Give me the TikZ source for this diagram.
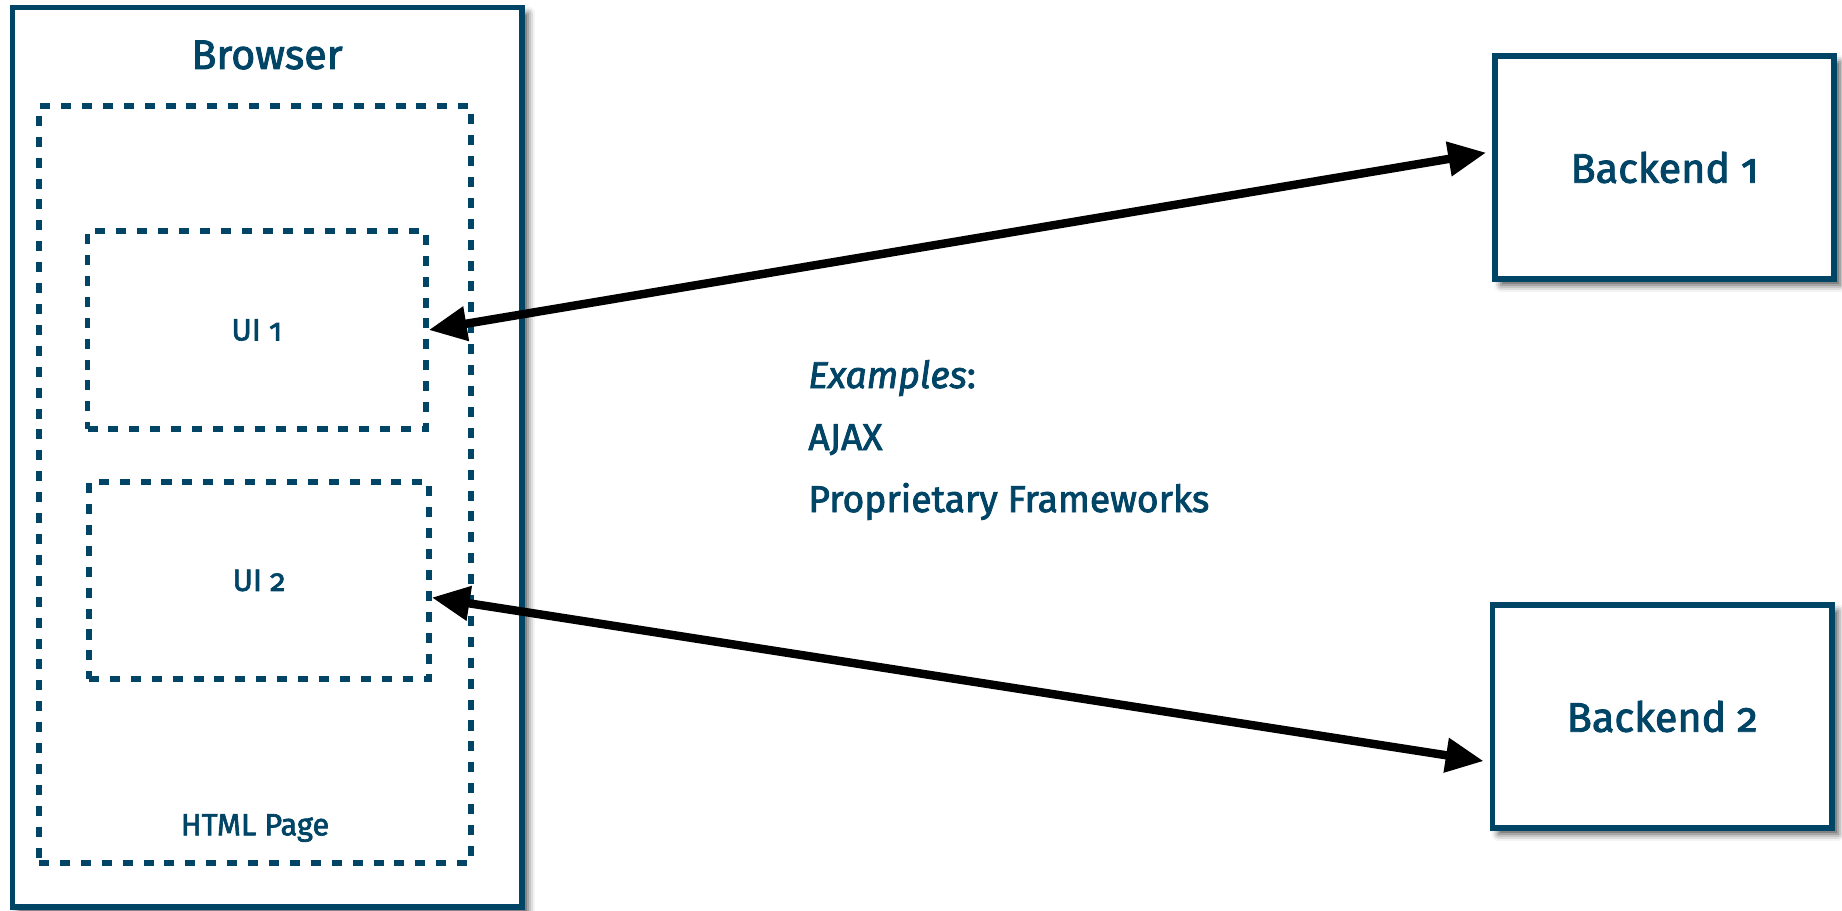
\documentclass[tikz,border=0pt]{standalone}
\usepackage{fontspec}
\setmainfont{Fira Sans}[Numbers=OldStyle, UprightFeatures={FakeBold=2.2}, ItalicFeatures={FakeBold=2.2}]
\usetikzlibrary{arrows.meta,fit,calc,shadows.blur}
\definecolor{navy}{RGB}{0,68,102}
\begin{document}
\begin{tikzpicture}[x=0.02cm,y=-0.02cm,
 solidbox/.style={draw=navy, line width=3.2pt, fill=white, inner sep=0pt,
   blur shadow={shadow xshift=0.12cm, shadow yshift=-0.12cm, shadow blur radius=0.14cm, shadow opacity=70}},
 dashbox/.style={draw=navy, line width=3.1pt, dash pattern=on 5.7pt off 6.2pt, inner sep=0pt},
 big/.style={text=navy, font=\fontsize{23.5}{28}\selectfont},
 small/.style={text=navy, font=\fontsize{17.5}{21}\selectfont},
 mid/.style={text=navy, font=\fontsize{21.2}{25}\selectfont, anchor=base west, inner sep=0pt},
 link/.style={{Triangle[length=0.76cm,width=0.66cm]}-{Triangle[length=0.76cm,width=0.66cm]}, line width=4.8pt, draw=black}
]
\useasboundingbox (0,0) rectangle (1842,910);
% boxes
\node[solidbox, fit={(12.5,7.5)(522,907)}] (browser) {};
\node[dashbox, fit={(39,106)(471,863)}] (html) {};
\node[dashbox, fit={(87.5,231)(426,429)}] (ui1) {};
\node[dashbox, fit={(89,482)(429,679)}] (ui2) {};
\node[solidbox, fit={(1495,56)(1834,279)}] (b1) {};
\node[solidbox, fit={(1492.5,605)(1832,828)}] (b2) {};
% labels
\node[big] (browserlbl) at (267,55) {Browser};
\node[small] (htmllbl) at (255,828) {HTML Page};
\node[small] (ui1lbl) at (ui1.center) {UI 1};
\node[small] (ui2lbl) at (ui2.center) {UI 2};
\node[big] (b1lbl) at (b1.center) {Backend 1};
\node[big] (b2lbl) at (b2.center) {Backend 2};
\node[mid] (ex1) at (808,388) {\textit{Examples}:};
\node[mid] (ex2) at (808,450) {AJAX};
\node[mid] (ex3) at (808,512) {Proprietary Frameworks};
% connectors
\draw[link] (ui1.east) -- ($(b1.north west)!0.435!(b1.south west)+(-6,0)$);
\draw[link] ($(ui2.east)+(0,17)$) -- ($(b2.north west)!0.695!(b2.south west)+(-6,0)$);
\end{tikzpicture}
\end{document}
